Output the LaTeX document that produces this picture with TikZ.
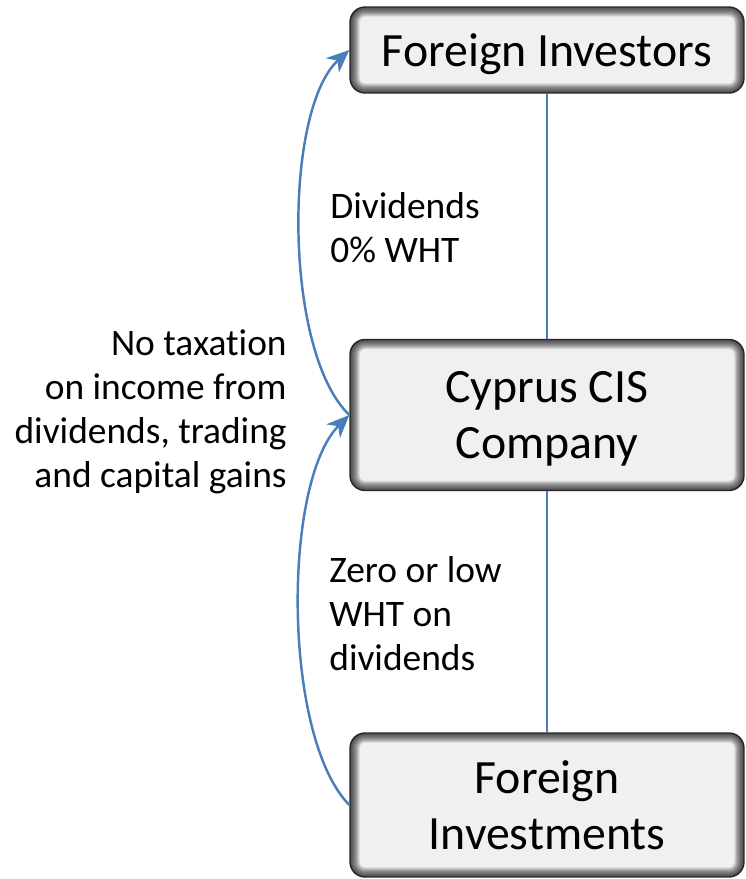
\documentclass[tikz,border=0pt]{standalone}
\usepackage{fontspec}
\setmainfont{Carlito}[Ligatures=NoCommon]
\usepackage{xcolor}
\usetikzlibrary{arrows.meta}
\definecolor{flowblue}{HTML}{4A7EBB}
\definecolor{boxfill}{HTML}{F0F0F0}

\begin{document}
\begin{tikzpicture}[
    x=0.02cm, y=-0.02cm,
    entity/.style={rectangle, rounded corners=0.3cm, draw=black!85, line width=0.8pt, fill=boxfill, minimum width=7.88cm, align=center, inner sep=0pt, font=\fontsize{27.2}{32}\selectfont,
        path picture={
            \foreach \w in {1,...,10}
                \draw[black, opacity=0.1, line width=\w*1.1pt, rounded corners=0.3cm] (path picture bounding box.south west) rectangle (path picture bounding box.north east);
        }},
    note/.style={inner sep=0pt, font=\fontsize{21.3}{25}\selectfont},
    link/.style={flowblue, line width=0.85pt},
    flow/.style={-{Stealth[length=13pt, width=11pt, inset=4pt]}, flowblue, line width=1.4pt}
]
\useasboundingbox (0,0) rectangle (745,879);

% Entities
\node[entity, minimum height=1.72cm, text depth=0pt] (investors) at (547, 50) {Foreign Investors};
\node[entity, minimum height=3.02cm, text depth=0pt] (cis) at (547, 415) {Cyprus CIS\\Company};
\node[entity, minimum height=2.88cm, text depth=-5.5pt] (investments) at (547, 805) {Foreign\\Investments};

% Ownership lines
\draw[link] (investors) -- (cis);
\draw[link] (cis) -- (investments);

% Income flows
\draw[flow] (investments.west) .. controls +(-67,-68) and +(-67,67) .. (cis.west);
\draw[flow] (cis.west) .. controls +(-66,-63) and +(-66,60) .. (investors.west);

% Labels (base = last line)
\node[note, anchor=base west, align=left] (dividends) at (330, 262) {Dividends\\0\% WHT};
\node[note, anchor=base west, align=left] (lowwht) at (329, 670) {Zero or low\\WHT on\\dividends};
\node[note, anchor=base east, align=right] (notax) at (287, 487) {No taxation\\on income from\\dividends, trading\\and capital gains};

\end{tikzpicture}
\end{document}
